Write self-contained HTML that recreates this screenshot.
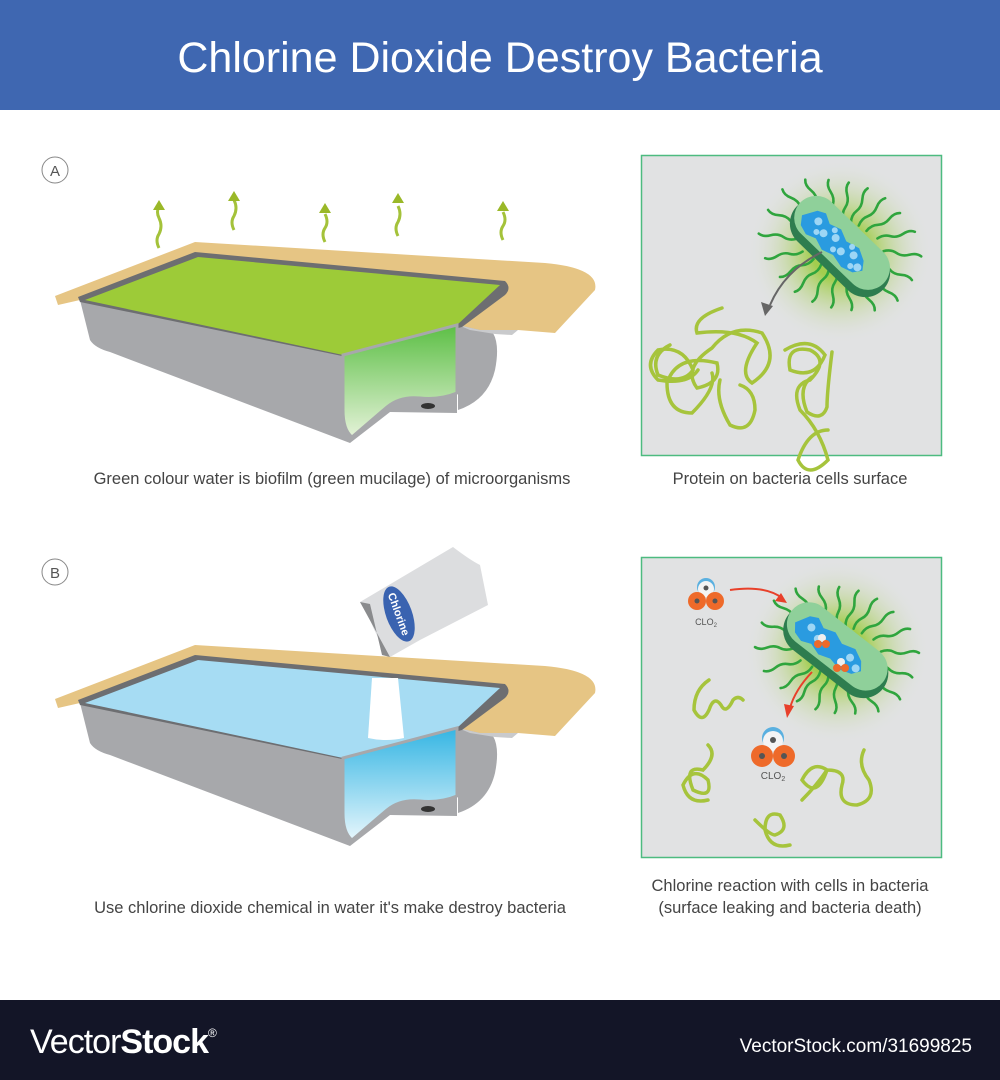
<!DOCTYPE html>
<html><head><meta charset="utf-8"><style>
html,body{margin:0;padding:0;background:#fff;}
svg{display:block;font-family:"Liberation Sans",sans-serif;}
</style></head><body>
<svg width="1000" height="1080" viewBox="0 0 1000 1080" xmlns="http://www.w3.org/2000/svg">
<defs>
<linearGradient id="gA" x1="0" y1="0" x2="0" y2="1"><stop offset="0" stop-color="#5cbf45"/><stop offset="1" stop-color="#e4f2d8"/></linearGradient>
<linearGradient id="gB" x1="0" y1="0" x2="0" y2="1"><stop offset="0" stop-color="#34b5e3"/><stop offset="1" stop-color="#e6f6fc"/></linearGradient>
<radialGradient id="glow"><stop offset="0.3" stop-color="#9ccb3e" stop-opacity="0.9"/><stop offset="1" stop-color="#e1e2e3" stop-opacity="0"/></radialGradient>
<path id="fl" d="M0,0 q7,-3 13,0 t13,0 t12,0" stroke="#2fa53d" stroke-width="2.6" fill="none" stroke-linecap="round"/>
<g id="flag">
<use href="#fl" transform="rotate(0) translate(42,0)"/><use href="#fl" transform="rotate(18) translate(36,0)"/>
<use href="#fl" transform="rotate(36) translate(28,0)"/><use href="#fl" transform="rotate(54) translate(25,0)"/>
<use href="#fl" transform="rotate(72) translate(25,0)"/><use href="#fl" transform="rotate(90) translate(27,0)"/>
<use href="#fl" transform="rotate(108) translate(30,0)"/><use href="#fl" transform="rotate(126) translate(38,0)"/>
<use href="#fl" transform="rotate(144) translate(44,0)"/><use href="#fl" transform="rotate(162) translate(42,0)"/>
<use href="#fl" transform="rotate(180) translate(42,0)"/><use href="#fl" transform="rotate(198) translate(36,0)"/>
<use href="#fl" transform="rotate(216) translate(28,0)"/><use href="#fl" transform="rotate(234) translate(25,0)"/>
<use href="#fl" transform="rotate(252) translate(25,0)"/><use href="#fl" transform="rotate(270) translate(27,0)"/>
<use href="#fl" transform="rotate(288) translate(30,0)"/><use href="#fl" transform="rotate(306) translate(38,0)"/>
<use href="#fl" transform="rotate(324) translate(44,0)"/><use href="#fl" transform="rotate(342) translate(42,0)"/>
</g>
<g id="pool">
<path d="M55,296 L195,242 L545,263 Q600,268 595,290 L555,333 L518,330 L475,330 L80,300 L58,305 Z" fill="#e6c584"/>
<path d="M80,300 L90,340 Q95,348 110,352 L350,443 L390,412 L457,413 L457,357 L350,357 Z" fill="#a7a8ab"/>
<path d="M458,325 L493,333 Q500,345 495,370 Q488,400 458,410 Z" fill="#a7a8ab"/>
<path d="M458,325 L480,330 L518,330 L512,335 L495,334 L470,330 Z" fill="#c9cacc"/>
<path d="M78,297 L195,252 L505,281 Q512,288 505,295 L462,327 L347,357 L80,302 Z" fill="#6d6e71"/>
</g>
</defs>
<rect x="0" y="0" width="1000" height="110" fill="#3f67b1"/>
<text x="500" y="72" font-size="43" fill="#fff" text-anchor="middle">Chlorine Dioxide Destroy Bacteria</text>

<!-- A -->
<circle cx="55" cy="170" r="13" fill="#fff" stroke="#888" stroke-width="1"/>
<text x="55" y="176" font-size="15" fill="#555" text-anchor="middle">A</text>
<g stroke="#a4c23a" stroke-width="3" fill="none">
<path d="M159,248 q-4,-8 0,-14 q4,-8 0,-16 q-3,-6 0,-12"/>
<path d="M234,230 q-4,-8 0,-14 q4,-8 0,-16"/>
<path d="M325,242 q-4,-8 0,-14 q4,-6 0,-14"/>
<path d="M398,236 q-4,-8 0,-14 q4,-8 0,-16"/>
<path d="M503,240 q-4,-8 0,-14 q4,-6 0,-14"/>
</g>
<g fill="#9ab828">
<path d="M159,200 l-6,10 h12z"/><path d="M234,191 l-6,10 h12z"/><path d="M325,203 l-6,10 h12z"/><path d="M398,193 l-6,10 h12z"/><path d="M503,201 l-6,10 h12z"/>
</g>
<use href="#pool"/>
<path d="M85,300 L198,257 L500,285 L457,325 L343,355 Z" fill="#9dcb38"/>
<path d="M343,355 L457,325 L457,393 Q440,400 420,398 Q400,396 387,407 L352,437 Q343,430 343,410 Z" fill="url(#gA)" stroke="#a7a8ab" stroke-width="3"/>
<ellipse cx="428" cy="406" rx="7" ry="3" fill="#333"/>
<text x="332" y="484" font-size="16.5" fill="#444" text-anchor="middle">Green colour water is biofilm (green mucilage) of microorganisms</text>

<rect x="641.5" y="155.5" width="300" height="300" fill="#e1e2e3" stroke="#4dbb80" stroke-width="1.5"/>
<circle cx="840" cy="252" r="92" fill="url(#glow)"/>
<g transform="translate(840,245) rotate(44)"><use href="#flag"/></g>
<g transform="rotate(44 840 245)">
<rect x="782" y="222" width="120" height="50" rx="25" fill="#2e7d4f"/>
<rect x="782" y="220" width="116" height="44" rx="22" fill="#8fd09a"/>
<path d="M800,236 l8,-4 10,5 12,-4 12,5 14,-4 12,6 6,8 -6,8 -12,4 -14,-3 -12,4 -12,-4 -10,4 -10,-3 -6,-8z" fill="#2a9be0"/>
<g fill="#9dd6f5"><circle cx="808" cy="243" r="4"/><circle cx="820" cy="248" r="4"/><circle cx="832" cy="243" r="4"/><circle cx="845" cy="249" r="4"/><circle cx="857" cy="243" r="4"/><circle cx="868" cy="249" r="4"/><circle cx="814" cy="252" r="3"/><circle cx="838" cy="253" r="3"/><circle cx="862" cy="253" r="3"/><circle cx="826" cy="238" r="3"/><circle cx="850" cy="238" r="3"/></g>
</g>
<path d="M822,252 Q785,270 770,305" stroke="#666" stroke-width="2" fill="none"/>
<path d="M765,316 l-4,-14 12,4z" fill="#666"/>
<g stroke="#a6c43c" stroke-width="3.5" fill="none" stroke-linecap="round">
<path d="M722,308 q-30,10 -25,25 q40,-5 60,10 q-20,30 -5,40 q30,-20 10,-50 q-30,-10 -50,15 q-30,20 -15,40 q25,-5 20,-25 q-40,-10 -50,20 q0,30 25,30 q25,-25 20,-40"/>
<path d="M670,345 q-20,10 -12,30 q25,10 35,-5 q-10,-25 -35,-20 q-15,15 0,30 q30,5 40,-10"/>
<path d="M785,350 q25,-15 40,5 q-10,25 -35,15 q-5,-25 20,-20 q20,10 0,30 q-20,5 -10,30 q20,20 28,50 q-20,20 -30,0 q10,-30 30,-30"/>
<path d="M832,352 q-5,40 -5,55 q-5,15 -20,5 q-10,-25 5,-35"/>
<path d="M720,380 q-5,20 10,45 q20,10 25,-15 q0,-20 -15,-25"/>
</g>
<text x="790" y="484" font-size="16.5" fill="#444" text-anchor="middle">Protein on bacteria cells surface</text>

<!-- B -->
<circle cx="55" cy="572" r="13" fill="#fff" stroke="#888" stroke-width="1"/>
<text x="55" y="578" font-size="15" fill="#555" text-anchor="middle">B</text>
<g transform="translate(0,403)">
<use href="#pool"/>
<path d="M85,300 L198,257 L500,285 L457,325 L343,355 Z" fill="#a6dcf3"/>
<path d="M343,355 L457,325 L457,393 Q440,400 420,398 Q400,396 387,407 L352,437 Q343,430 343,410 Z" fill="url(#gB)" stroke="#a7a8ab" stroke-width="3"/>
<ellipse cx="428" cy="406" rx="7" ry="3" fill="#333"/>
</g>
<path d="M372,678 L398,678 L404,738 Q386,742 368,738 Z" fill="#fff"/>
<path d="M360,602 L453,547 Q470,560 480,565 L488,605 L420,640 L390,657 Q378,640 370,620 Z" fill="#dcdddf"/>
<path d="M360,602 L370,604 L382,655 L390,657 Z" fill="#8a8b8d"/>
<ellipse cx="399" cy="614" rx="13" ry="29" transform="rotate(-20 399 614)" fill="#3a63b0"/>
<text x="399" y="614" font-size="11" fill="#fff" text-anchor="middle" transform="rotate(70 399 614)" dy="4" font-weight="bold">Chlorine</text>
<text x="330" y="913" font-size="16.5" fill="#444" text-anchor="middle">Use chlorine dioxide chemical in water it's make destroy bacteria</text>

<rect x="641.5" y="557.5" width="300" height="300" fill="#e1e2e3" stroke="#4dbb80" stroke-width="1.5"/>
<circle cx="837" cy="652" r="92" fill="url(#glow)"/>
<g transform="translate(837,650) rotate(38)"><use href="#flag"/></g>
<g transform="rotate(38 837 650)">
<rect x="777" y="627" width="120" height="50" rx="25" fill="#2e7d4f"/>
<rect x="777" y="625" width="116" height="44" rx="22" fill="#8fd09a"/>
<path d="M795,640 l8,-4 10,5 12,-4 12,5 14,-4 12,6 6,8 -6,8 -12,4 -14,-3 -12,4 -12,-4 -10,4 -10,-3 -6,-8z" fill="#2a9be0"/>
<g fill="#9dd6f5"><circle cx="803" cy="648" r="4"/><circle cx="815" cy="653" r="4"/><circle cx="852" cy="648" r="4"/><circle cx="863" cy="653" r="4"/></g>
</g>
<g><circle cx="822" cy="638" r="4" fill="#eee"/><circle cx="818" cy="644" r="4" fill="#ee6a2a"/><circle cx="826" cy="644" r="4" fill="#ee6a2a"/>
<circle cx="841" cy="662" r="4" fill="#eee"/><circle cx="837" cy="668" r="4" fill="#ee6a2a"/><circle cx="845" cy="668" r="4" fill="#ee6a2a"/></g>
<path d="M730,590 Q765,585 782,598" stroke="#e8402a" stroke-width="2" fill="none"/><path d="M787,603 l-12,-2 6,-8z" fill="#e8402a"/>
<path d="M812,672 Q795,690 790,708" stroke="#e8402a" stroke-width="2" fill="none"/><path d="M787,718 l-3,-14 10,2z" fill="#e8402a"/>
<g><circle cx="706" cy="587" r="9" fill="#5ab0e0"/><circle cx="706" cy="589" r="8" fill="#f4f4f4"/><circle cx="697" cy="601" r="9" fill="#ee6a2a"/><circle cx="715" cy="601" r="9" fill="#ee6a2a"/>
<circle cx="706" cy="588" r="2.5" fill="#555"/><circle cx="697" cy="601" r="2.5" fill="#555"/><circle cx="715" cy="601" r="2.5" fill="#555"/></g>
<text x="706" y="625" font-size="9" fill="#555" text-anchor="middle">CLO<tspan font-size="6" dy="2">2</tspan></text>
<g><circle cx="773" cy="738" r="11" fill="#5ab0e0"/><circle cx="773" cy="741" r="10" fill="#f4f4f4"/><circle cx="762" cy="756" r="11" fill="#ee6a2a"/><circle cx="784" cy="756" r="11" fill="#ee6a2a"/>
<circle cx="773" cy="740" r="3" fill="#555"/><circle cx="762" cy="756" r="3" fill="#555"/><circle cx="784" cy="756" r="3" fill="#555"/></g>
<text x="773" y="779" font-size="10" fill="#555" text-anchor="middle">CLO<tspan font-size="7" dy="2">2</tspan></text>
<g stroke="#a6c43c" stroke-width="3.5" fill="none" stroke-linecap="round">
<path d="M709,680 q-15,10 -15,30 q8,15 15,0 q5,-15 12,-5 q5,10 12,-5 q5,-5 10,0"/>
<path d="M708,745 q10,10 -5,25 q-20,-5 -10,20 q20,10 15,-10 q-15,-15 -25,5 q5,20 25,15"/>
<path d="M755,820 q15,15 20,15 q15,-5 5,-20 q-15,-5 -15,15 q5,20 25,15"/>
<path d="M802,800 q15,-15 25,-30 q-15,-10 -25,10 q15,20 25,-10 q20,0 15,15 q-5,20 15,20 q20,-5 12,-25 q-12,-15 -5,-30"/>
</g>
<text x="790" y="891" font-size="16.5" fill="#444" text-anchor="middle">Chlorine reaction with cells in bacteria</text>
<text x="790" y="913" font-size="16.5" fill="#444" text-anchor="middle">(surface leaking and bacteria death)</text>

<rect x="0" y="1000" width="1000" height="80" fill="#131527"/>
<text x="30" y="1053" font-size="34" fill="#fff" letter-spacing="-1"><tspan font-weight="300">Vector</tspan><tspan font-weight="bold">Stock</tspan><tspan font-size="12" dy="-16">®</tspan></text>
<text x="972" y="1052" font-size="19" fill="#fff" text-anchor="end">VectorStock.com/31699825</text>
</svg>
</body></html>
